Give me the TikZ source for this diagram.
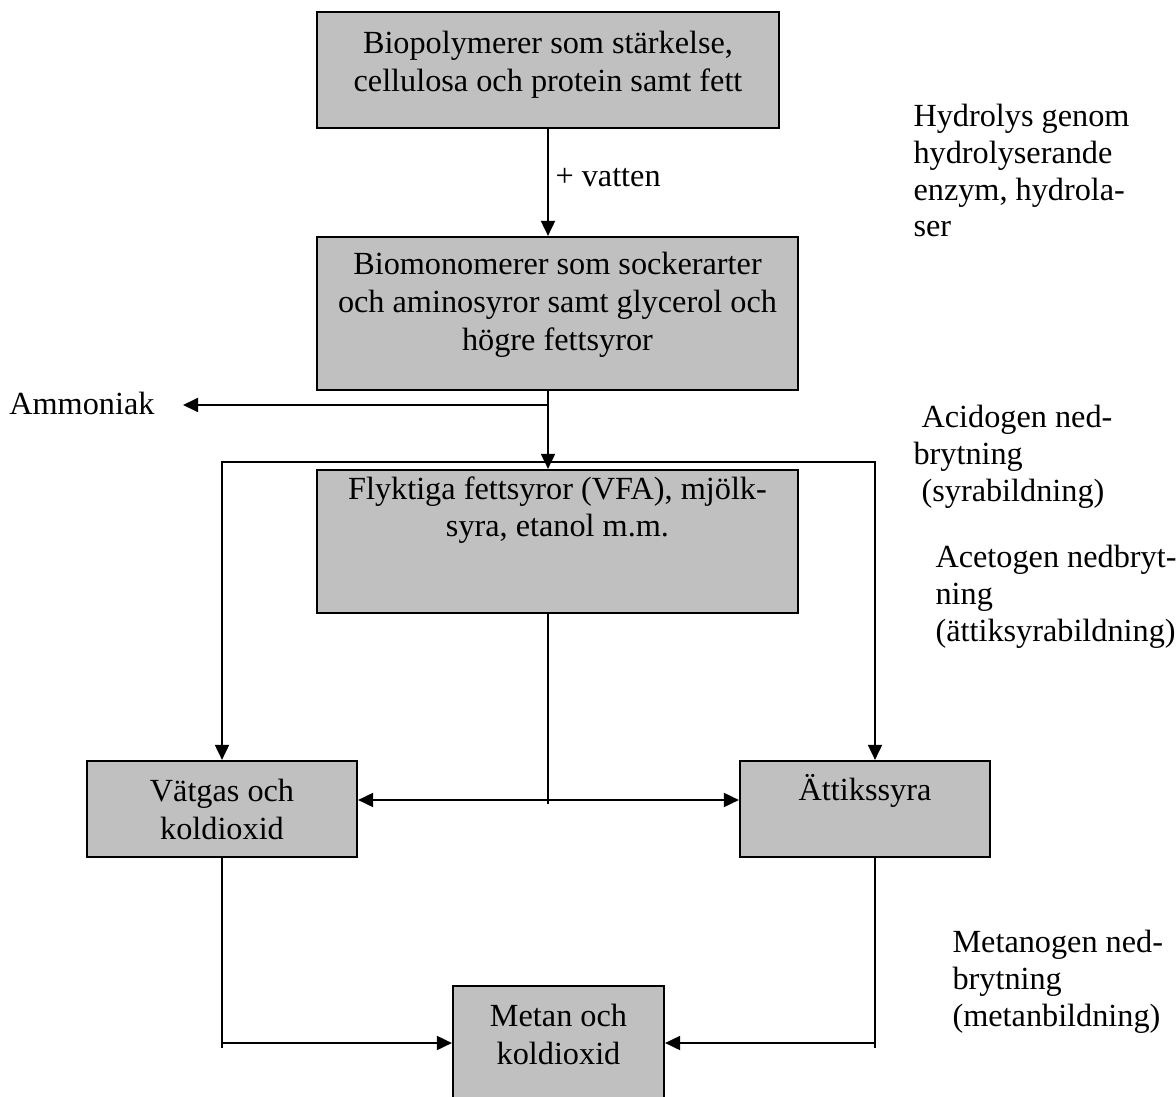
\documentclass[tikz,border=0pt]{standalone}
\usepackage{fontspec}
\setmainfont{Liberation Serif}
\usetikzlibrary{arrows.meta,calc,positioning,fit}
\definecolor{boxgray}{RGB}{192,192,192}

\begin{document}
\begin{tikzpicture}[x=0.372pt,y=-0.372pt,
  font=\fontsize{12}{14}\selectfont,
  >={Triangle[length=5.6pt,width=5.2pt]},
  stage/.style={draw,fill=boxgray,line width=0.8pt,inner sep=0pt},
  stagetext/.style={anchor=north,align=center,inner sep=0pt},
  note/.style={anchor=north west,align=left,inner sep=0pt,font=\fontsize{12}{13.6}\selectfont},
  conn/.style={line width=0.75pt}]
\useasboundingbox (0,0) rectangle (1176,1097);
\clip (0,0) rectangle (1176,1097);
% the stages
\node[stage,fit={(317,12) (779,128)}] (poly) {};
\node[stage,fit={(317,237) (798,390)}] (mono) {};
\node[stage,fit={(317,470) (798,613)}] (vfa) {};
\node[stage,fit={(87,761) (357,857)}] (gas) {};
\node[stage,fit={(740,761) (990,857)}] (acetic) {};
\node[stage,fit={(453,986) (664,1120)}] (methane) {};
\node[stagetext] (polytxt) at ($(poly.north)+(0,20)$) {Biopolymerer som stärkelse,\\cellulosa och protein samt fett};
\node[stagetext] (monotxt) at ($(mono.north)+(0,16)$) {Biomonomerer som sockerarter\\och aminosyror samt glycerol och\\högre fettsyror};
\node[stagetext] (vfatxt) at ($(vfa.north)+(0,7)$) {Flyktiga fettsyror (VFA), mjölk-\\syra, etanol m.m.};
\node[stagetext] (gastxt) at ($(gas.north)+(0,19)$) {Vätgas och\\koldioxid};
\node[stagetext] (acetictxt) at ($(acetic.north)+(0,14)$) {Ättikssyra};
\node[stagetext] (methanetxt) at ($(methane.north)+(0,19)$) {Metan och\\koldioxid};
% hydrolysis
\draw[conn,->] (poly.south) -- (poly.south |- mono.north);
\node[anchor=base west,inner sep=0pt] (water) at (555,187) {+ vatten};
% acidogenesis
\coordinate (nh3) at (548,405);
\draw[conn,->] (mono.south -| poly.south) -- (vfa.north -| poly.south);
\node[anchor=base east,inner xsep=10.4pt,inner ysep=0pt] (ammonia) at (183,415) {Ammoniak};
\draw[conn,->] (nh3) -- (nh3 -| ammonia.east);
\coordinate (splitL) at (222,462);
\coordinate (splitR) at (875,462);
\draw[conn,<->] (gas.north) -- (splitL) -- (splitR) -- (splitR |- acetic.north);
% acetogenesis
\coordinate (hub) at (548,800);
\draw[conn] (vfa.south -| hub) -- ($(hub)+(0,4)$);
\draw[conn,<->] (gas.east |- hub) -- (acetic.west |- hub);
% methanogenesis
\coordinate (join) at (558,1043);
\draw[conn] (gas.south) -- ($(gas.south |- join)+(0,5)$);
\draw[conn,->] (gas.south |- join) -- (methane.west |- join);
\draw[conn] (splitR |- acetic.south) -- ($(splitR |- join)+(0,5)$);
\draw[conn,->] (splitR |- join) -- (methane.east |- join);
% the steps
\node[note] (hydro) at (913,104) {Hydrolys genom\\hydrolyserande\\enzym, hydrola-\\ser};
\node[note] (acido) at (913,405) {\hspace*{3pt}Acidogen ned-\\brytning\\\hspace*{3pt}(syrabildning)};
\node[note] (aceto) at (935,545) {Acetogen nedbryt-\\ning\\(ättiksyrabildning)};
\node[note] (metano) at (952,930) {Metanogen ned-\\brytning\\(metanbildning)};
\end{tikzpicture}
\end{document}
